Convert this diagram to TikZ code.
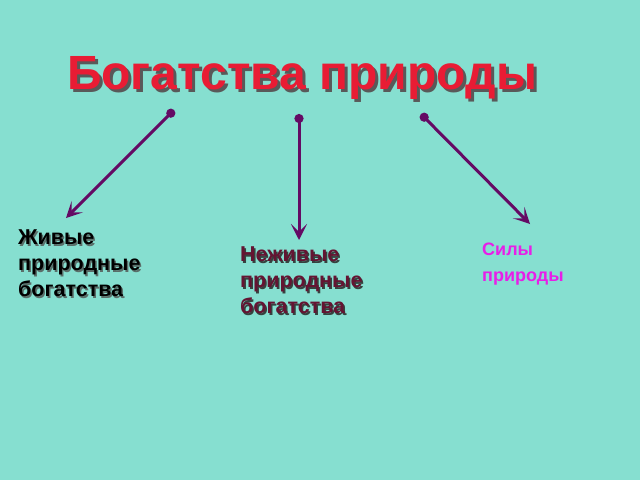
\documentclass[tikz,border=0pt]{standalone}
\usepackage{fontspec}
\setmainfont{Liberation Sans}
\usetikzlibrary{arrows.meta}
\definecolor{bg}{RGB}{134,223,208}
\definecolor{titlered}{RGB}{232,28,52}
\definecolor{arr}{RGB}{100,10,100}
\definecolor{maroon}{RGB}{100,20,50}
\definecolor{mag}{RGB}{232,30,232}
\definecolor{shad}{RGB}{90,110,105}
\tikzset{
  conn/.style={draw=arr, line width=3pt, {Circle[length=9pt]}-{Stealth[length=16pt,width=16pt,inset=8pt]}},
  lbl/.style={font=\bfseries\fontsize{21.5}{26}\selectfont, align=left, anchor=north west, inner sep=0pt},
}
\begin{document}
\begin{tikzpicture}[x=1pt,y=-1pt]
\useasboundingbox (0,0) rectangle (640,480);
\fill[bg] (0,0) rectangle (640,480);
% title with shadow
\node[text=gray!70!black, font=\bfseries\fontsize{48}{54}\selectfont] at (305,81) {Богатства природы};
\node[text=titlered, font=\bfseries\fontsize{48}{54}\selectfont] (title) at (302,78) {Богатства природы};
\coordinate (s1) at (174,110); \coordinate (e1) at (66,218);
\coordinate (s2) at (299,114); \coordinate (e2) at (299,240);
\coordinate (s3) at (421,114); \coordinate (e3) at (530,224);
\draw[conn] (s1) -- (e1);
\draw[conn] (s2) -- (e2);
\draw[conn] (s3) -- (e3);
% labels
\node[lbl, text=shad] at (19.5,231.5) {Живые\\природные\\богатства};
\node[lbl, text=black] (a) at (18,230) {Живые\\природные\\богатства};
\node[lbl, text=shad!60!black] at (241.5,248.5) {Неживые\\природные\\богатства};
\node[lbl, text=maroon] (b) at (240,247) {Неживые\\природные\\богатства};
\node[lbl, text=mag, font=\bfseries\fontsize{18}{26}\selectfont] (c) at (482,243) {Силы\\природы};
\end{tikzpicture}
\end{document}
